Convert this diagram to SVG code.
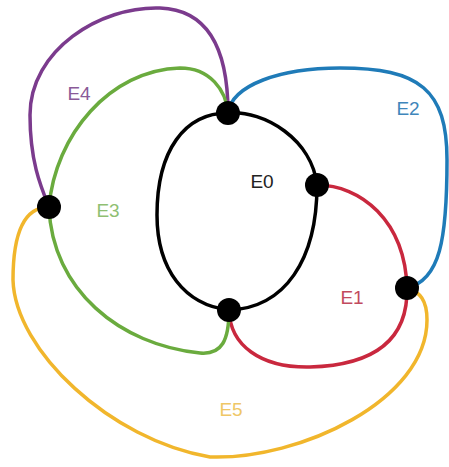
<svg xmlns="http://www.w3.org/2000/svg" width="449" height="467" viewBox="0 0 449 467">
<style>
.e{fill:none;stroke-width:3.5;stroke-linecap:round}
.n{fill:#000}
text{font-family:"Liberation Sans",Arial,sans-serif;font-size:19px;text-anchor:middle;dominant-baseline:central}
</style>
<rect width="449" height="467" fill="#fff"/>
<g id="connectors">
<path id="E0" class="e" stroke="#000" d="M228,113 C265,110 312,140 317,185 C317,260 285,308 229,310 C185,305 157,270 157,215 C157,150 185,113 228,113"/>
<path id="E1" class="e" stroke="#c9283e" d="M317,185 C360,185 405,220 407,288 C408,335 380,365 310,367 C260,368 230,345 229,310"/>
<path id="E2" class="e" stroke="#1f7bb8" d="M228,113 C232,85 280,68 340,68 C420,68 447,90 447,160 C447,240 440,280 407,288"/>
<path id="E4" class="e" stroke="#7b3b8d" d="M228,113 C228,60 215,10 160,8 C100,6 30,50 30,115 C30,160 40,185 49,207"/>
<path id="E3" class="e" stroke="#6aab3e" d="M228,113 C226,90 210,68 180,68 C110,70 55,135 49,207 C52,290 120,345 200,353 C222,355 229,340 229,310"/>
<path id="E5" class="e" stroke="#f1b62c" d="M49,207 C25,207 13,230 13,280 C15,350 110,440 210,457 C300,460 427,400 427,320 C427,300 420,292 407,288"/>
</g>
<g id="labels">
<text x="262" y="181" fill="#222">E0</text>
<text x="352" y="297" fill="#c24a5e">E1</text>
<text x="408" y="108" fill="#3f86bb">E2</text>
<text x="108" y="210" fill="#8fbf72">E3</text>
<text x="79" y="93" fill="#8a5a98">E4</text>
<text x="231" y="409" fill="#efc766">E5</text>
</g>
<g id="nA"><circle class="n" cx="228" cy="113" r="12"/></g>
<g id="nB"><circle class="n" cx="317" cy="185" r="12"/></g>
<g id="nC"><circle class="n" cx="229" cy="310" r="12"/></g>
<g id="nD"><circle class="n" cx="49" cy="207" r="12"/></g>
<g id="nF"><circle class="n" cx="407" cy="288" r="12"/></g>
</svg>
